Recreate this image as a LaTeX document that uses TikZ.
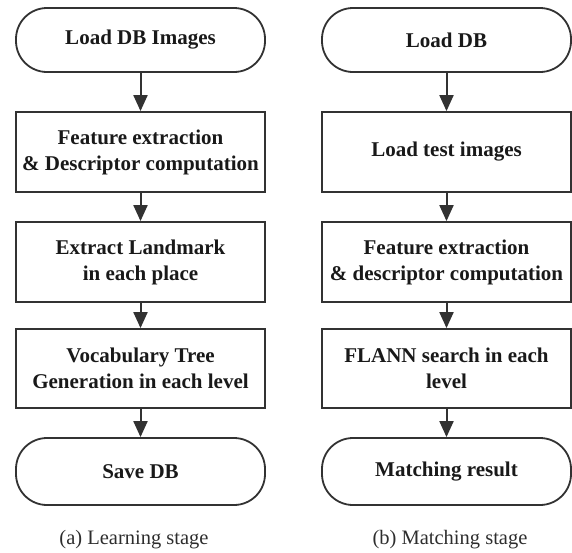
\documentclass[tikz,border=0pt]{standalone}
\usepackage{fontspec}
\setmainfont{Liberation Serif}
\usetikzlibrary{arrows.meta}
\definecolor{boxgray}{RGB}{50,50,50}
\definecolor{textblack}{RGB}{25,25,25}
\definecolor{capgray}{RGB}{45,45,45}
\begin{document}
\begin{tikzpicture}[x=1pt,y=1pt,
  box/.style={draw=boxgray, line width=1.8pt, minimum width=249pt, inner sep=0pt,
    align=center, font=\fontsize{21}{26}\selectfont\bfseries, text=textblack},
  proc/.style={box},
  term/.style={box, rounded corners=31pt},
  conn/.style={draw=boxgray, line width=2pt, -{Triangle[width=14pt,length=16pt]}},
  captext/.style={font=\fontsize{20.5}{24}\selectfont, text=capgray}]
\useasboundingbox (0,0) rectangle (572,-552);
% left column
\node[term, minimum height=64pt] (a1) at (140.5,-40) {Load DB Images};
\node[proc, minimum height=80pt] (a2) at (140.5,-152) {Feature extraction\\\& Descriptor computation};
\node[proc, minimum height=80pt] (a3) at (140.5,-262) {Extract Landmark\\in each place};
\node[proc, minimum height=79pt] (a4) at (140.5,-368.5) {Vocabulary Tree\\Generation in each level};
\node[term, minimum height=67pt] (a5) at (140.5,-471.5) {Save DB};
\node[captext] (ca) at (134,-540) {(a) Learning stage};
% right column
\node[term, minimum height=64pt] (b1) at (446.5,-40) {Load DB};
\node[proc, minimum height=80pt] (b2) at (446.5,-152) {Load test images};
\node[proc, minimum height=80pt] (b3) at (446.5,-262) {Feature extraction\\\& descriptor computation};
\node[proc, minimum height=79pt] (b4) at (446.5,-368.5) {FLANN search in each\\level};
\node[term, minimum height=67pt] (b5) at (446.5,-471.5) {Matching result};
\node[captext] (cb) at (450,-540) {(b) Matching stage};
% connectors
\foreach \c in {a,b}{
  \draw[conn] (\c1) -- (\c2);
  \draw[conn] (\c2) -- (\c3);
  \draw[conn] (\c3) -- (\c4);
  \draw[conn] (\c4) -- (\c5);
}
\end{tikzpicture}
\end{document}
